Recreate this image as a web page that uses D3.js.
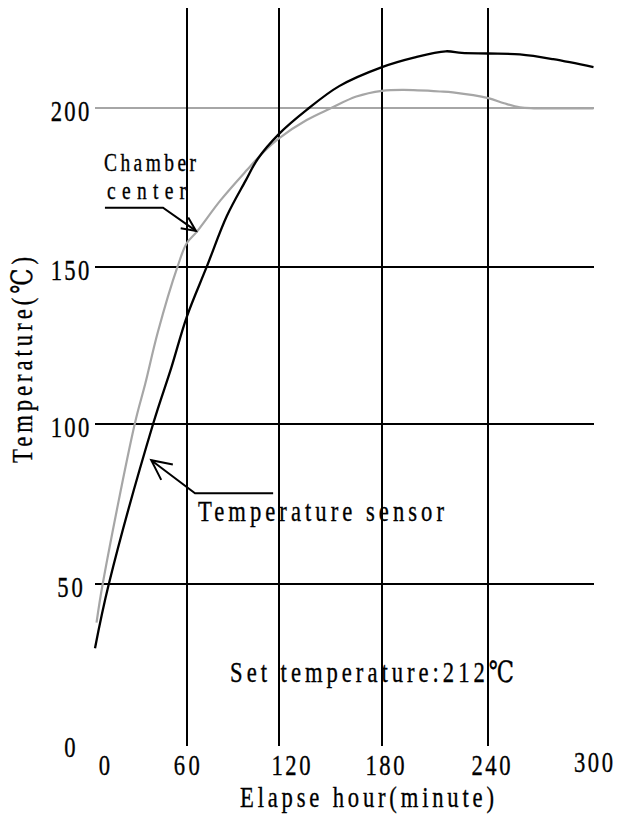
<!DOCTYPE html>
<html>
<head>
<meta charset="utf-8">
<script src="https://cdn.jsdelivr.net/npm/d3@7"></script>
<style>
  html, body { margin: 0; padding: 0; background: #fff; }
  svg { display: block; }
</style>
</head>
<body>
<svg id="chart" width="622" height="814"></svg>
<script>
// ---- data ----
const xTicks = [0, 60, 120, 180, 240, 300];          // elapsed minutes
const yTicks = [0, 50, 100, 150, 200];               // temperature, °C

// temperature sensor trace
const sensorTime = [0, 9, 38, 50, 60, 73, 86, 98, 106, 120, 136, 155, 180, 198, 216, 225, 240, 258, 277, 300];
const sensorTemp = [30, 50, 100, 118, 134, 150, 166, 177, 184, 192, 199.5, 207, 213, 216, 218, 217.5, 217.3, 217, 215.5, 213];

// chamber centre trace
const chamberTime = [1, 5, 26, 33, 41, 54, 60, 66.5, 82, 99, 110, 120, 136, 150, 165, 180, 192, 213, 220, 240, 249, 258, 266, 300];
const chamberTemp = [38, 50, 100, 113, 129, 150, 157.4, 161, 171, 180.5, 186.3, 190.6, 196.3, 200, 203.7, 205.5, 205.8, 205.3, 205, 203.2, 201.6, 200.3, 200, 200];

const setpointLine = 200;

// annotation call-outs: [minutes, °C] for leader start, bend and arrow tip
const chamberArrow = [[6.5, 168.6], [44.5, 168.6], [66, 161.3]];
const sensorArrow = [[116, 78.4], [65.4, 78.4], [36.8, 88.7]];

// ---- layout ----
const xStops = [95, 186.7, 279.3, 382, 488.3, 593.5];
const yStops = [744, 584.3, 424, 266.7, 108.3];
const plotTop = 8, plotBottom = 746;
const xLabelShift = [9.5, 0, 11.7, 3, 2.7, 0];
const xLabelRise = [0, 0, 0, 0, 0, -3];
const GREY = "#a6a6a6";
const FS = 29;     // font size
const SX = 0.78;   // horizontal condensing of glyphs

const x = d3.scaleLinear().domain(xTicks).range(xStops);
const y = d3.scaleLinear().domain(yTicks).range(yStops);

const svg = d3.select("#chart");
svg.append("rect").attr("width", 622).attr("height", 814).attr("fill", "#fff");

// ---- grid ----
const grid = svg.append("g")
  .attr("fill", "none")
  .attr("stroke-width", 2)
  .attr("shape-rendering", "crispEdges");

grid.selectAll("line.h")
  .data(yTicks.filter(t => t > 0))
  .join("line")
  .attr("class", "h")
  .attr("x1", x(xTicks[0]))
  .attr("x2", x(xTicks[xTicks.length - 1]))
  .attr("y1", d => y(d))
  .attr("y2", d => y(d))
  .attr("stroke", d => d === setpointLine ? GREY : "#000");

grid.selectAll("line.v")
  .data(xTicks.filter((t, i) => i > 0 && i < xTicks.length - 1))
  .join("line")
  .attr("class", "v")
  .attr("x1", d => x(d))
  .attr("x2", d => x(d))
  .attr("y1", plotTop)
  .attr("y2", plotBottom)
  .attr("stroke", "#000");

// ---- traces ----
const line = d3.line()
  .x(d => x(d[0]))
  .y(d => y(d[1]))
  .curve(d3.curveCatmullRom.alpha(0.5));

svg.append("path")
  .datum(chamberTime.map((t, i) => [t, chamberTemp[i]]))
  .attr("d", line)
  .attr("fill", "none")
  .attr("stroke", GREY)
  .attr("stroke-width", 2.2);

svg.append("path")
  .datum(sensorTime.map((t, i) => [t, sensorTemp[i]]))
  .attr("d", line)
  .attr("fill", "none")
  .attr("stroke", "#000")
  .attr("stroke-width", 2.3);

// ---- call-out arrows ----
function arrow(points, armLen, armDeg) {
  const pts = points.map(([t, v]) => [x(t), y(v)]);
  const [tx, ty] = pts[pts.length - 1];
  const [bx, by] = pts[pts.length - 2];
  const back = Math.atan2(by - ty, bx - tx);
  const a = armDeg * Math.PI / 180;
  const arm1 = [tx + armLen * Math.cos(back - a), ty + armLen * Math.sin(back - a)];
  const arm2 = [tx + armLen * Math.cos(back + a), ty + armLen * Math.sin(back + a)];
  const g = svg.append("g").attr("fill", "none").attr("stroke", "#000").attr("stroke-width", 2);
  g.append("path").attr("d", d3.line()(pts));
  g.append("path").attr("d", d3.line()([arm1, [tx, ty], arm2]));
}
arrow(chamberArrow, 15.5, 25);
arrow(sensorArrow, 22, 26);

// ---- text ----
const textLayer = svg.append("g")
  .attr("font-family", "'Liberation Serif', 'DejaVu Serif', serif")
  .attr("font-size", FS)
  .attr("fill", "#000")
  .attr("stroke", "#000")
  .attr("stroke-width", 0.35);

function addText(parent, str, px, py, width, opt = {}) {
  const g = parent.append("g")
    .attr("transform", `translate(${px},${py}) rotate(${opt.rotate || 0}) scale(${SX},1)`);
  const t = g.append("text")
    .attr("text-anchor", opt.anchor || "start")
    .text(str);
  if (opt.size) t.attr("font-size", opt.size);
  if (width && str.length > 1) {
    t.attr("textLength", width / SX).attr("lengthAdjust", "spacing");
  }
  return t;
}

// tick labels
yTicks.forEach(t => {
  const s = String(t);
  addText(textLayer, s, 70, y(t) + 13, 12.8 * s.length, { anchor: "middle" });
});
xTicks.forEach((t, i) => {
  const s = String(t);
  addText(textLayer, s, x(t) + xLabelShift[i], 775 + xLabelRise[i], 13 * s.length, { anchor: "middle" });
});

// axis titles
addText(textLayer, "Elapse hour(minute)", 240, 806.5, 254);
addText(textLayer, "Temperature(℃)", 32, 463, 206, { rotate: -90 });

// notes
addText(textLayer, "Chamber", x(5.9), y(180.2), 92, { size: 25 });
addText(textLayer, "center", x(7.9), y(171.4), 79, { size: 25 });
addText(textLayer, "Temperature sensor", x(67.3), y(69.8), 246);
addText(textLayer, "Set temperature:212℃", x(88.1), y(19.5), 284);
</script>
</body>
</html>
